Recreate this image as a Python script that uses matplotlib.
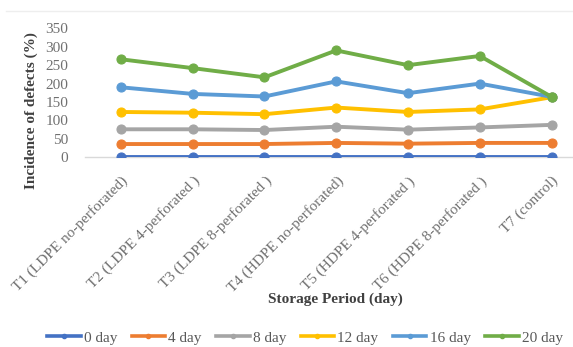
import matplotlib
matplotlib.use("Agg")
import matplotlib.pyplot as plt
from matplotlib.lines import Line2D

plt.rcParams["font.family"] = ["Liberation Serif", "DejaVu Serif"]

treatments = [
    "T1 (LDPE no-perforated)",
    "T2 (LDPE 4-perforated )",
    "T3 (LDPE 8-perforated )",
    "T4 (HDPE no-perforated)",
    "T5 (HDPE 4-perforated )",
    "T6 (HDPE 8-perforated )",
    "T7 (control)",
]
series_names = ["0 day", "4 day", "8 day", "12 day", "16 day", "20 day"]
day0 = [0, 0, 0, 0, 0, 0, 0]
day4 = [36, 36, 36, 39, 37, 39, 39]
day8 = [76, 76, 74, 83, 75, 81, 88]
day12 = [123, 121, 117, 135, 123, 130, 163]
day16 = [190, 172, 165, 206, 174, 200, 164]
day20 = [266, 242, 217, 290, 250, 275, 164]
yticks = [0, 50, 100, 150, 200, 250, 300, 350]

colors = ["#4472C4", "#ED7D31", "#A5A5A5", "#FFC000", "#5B9BD5", "#70AD47"]
series = [day0, day4, day8, day12, day16, day20]

fig = plt.figure(figsize=(5.73, 3.47), dpi=100)
ax = fig.add_axes([0.1483, 0.5467, 0.877, 0.3717])

x = list(range(len(treatments)))
for vals, c in zip(series, colors):
    ax.plot(x, vals, color=c, lw=2.8, marker="o", ms=6.5,
            mfc=c, mec=c, mew=0.8, solid_capstyle="round", zorder=3)

ax.set_xlim(-0.5, 6.5)
ax.set_ylim(0, 350)
ax.set_yticks(yticks)
ax.set_xticks(x)
ax.set_xticklabels(treatments, rotation=45, ha="right", va="top",
                   rotation_mode="anchor")
for s in ["top", "right", "left"]:
    ax.spines[s].set_visible(False)
ax.spines["bottom"].set_color("#D9D9D9")
ax.spines["bottom"].set_linewidth(1.0)
ax.spines["bottom"].set_zorder(1)
ax.tick_params(axis="both", length=0, colors="#707070", labelsize=11)
ax.tick_params(axis="y", pad=12)
ax.tick_params(axis="x", pad=12)

fig.text(0.054, 0.68, "Incidence of defects (%)", rotation=90, ha="center",
         va="center", fontsize=11, fontweight="bold", color="#404040")
fig.text(0.586, 0.138, "Storage Period (day)", ha="center", va="center",
         fontsize=11, fontweight="bold", color="#404040")

# faint frame line across the top
fig.add_artist(Line2D([0.01, 1.0], [0.969, 0.969], color="#EEEEEE", lw=1.0,
                      transform=fig.transFigure))

handles = [Line2D([], [], color=c, lw=2.6, marker="o", ms=3, mfc=c, mec=c)
           for c in colors]
fig.legend(handles, series_names, loc="center", bbox_to_anchor=(0.532, 0.026),
           ncol=6, frameon=False, fontsize=11, handlelength=2.2,
           handletextpad=0.2, columnspacing=0.95, labelcolor="#595959")

fig.savefig("out.png", dpi=100)
